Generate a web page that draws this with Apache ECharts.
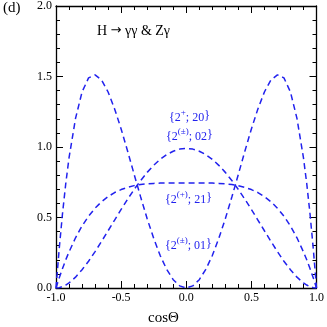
<!DOCTYPE html>
<html><head><meta charset="utf-8">
<script src="https://cdn.jsdelivr.net/npm/echarts@6/dist/echarts.min.js"></script>
<style>html,body{margin:0;padding:0;background:#fff}#c{width:327px;height:327px}</style>
</head><body><div id="c"></div>
<script>
var cosTheta = [-1,-0.975,-0.95,-0.925,-0.9,-0.85,-0.8,-0.75,-0.7,-0.65,-0.6,-0.55,-0.5,-0.45,-0.4,-0.35,-0.3,-0.25,-0.2,-0.15,-0.1,-0.05,0,
  0.05,0.1,0.15,0.2,0.25,0.3,0.35,0.4,0.45,0.5,0.55,0.6,0.65,0.7,0.75,0.8,0.85,0.9,0.925,0.95,0.975,1];
var curve01Half = [0,0.282,0.528,0.741,0.923,1.203,1.390,1.490,1.512,1.475,1.390,1.270,1.128,0.970,0.806,0.645,0.491,0.352,0.230,0.132,0.059,0.015,0];
var curve02Half = [0,0.002,0.010,0.021,0.036,0.077,0.130,0.190,0.258,0.331,0.406,0.482,0.557,0.630,0.699,0.762,0.820,0.870,0.913,0.946,0.970,0.985,0.99];
var curve21Half = [0,0.072,0.138,0.200,0.256,0.356,0.440,0.509,0.566,0.612,0.648,0.677,0.698,0.714,0.726,0.734,0.739,0.742,0.744,0.745,0.745,0.745,0.745];
function mirror(h){ return h.concat(h.slice(0,h.length-1).reverse()); }
var curve01 = mirror(curve01Half), curve02 = mirror(curve02Half), curve21 = mirror(curve21Half);
var xTicks = ['-1.0','-0.5','0.0','0.5','1.0'];
var yTicks = ['0.0','0.5','1.0','1.5','2.0'];

var serif = 'Liberation Serif';
var blue = '#2222ee';
function pairs(ys){ return cosTheta.map(function(x,i){return [x, ys[i]];}); }
function axisCommon(show){
  return {
    axisLine:{show:true, onZero:false, lineStyle:{color:'#000', width:1.3}},
    axisTick:{show:true, inside:true, length:7, lineStyle:{color:'#000', width:1}},
    minorTick:{show:true, splitNumber:5, length:4, lineStyle:{color:'#000', width:1}},
    splitLine:{show:false}, minorSplitLine:{show:false},
    axisLabel:{show:show, color:'#000', fontFamily:serif, fontSize:12}
  };
}
var xa = axisCommon(true), xb = axisCommon(false), ya = axisCommon(true), yb = axisCommon(false);
xa = Object.assign(xa,{type:'value', min:-1, max:1, interval:0.5, position:'bottom'});
xa.axisLabel.margin = 4; xa.axisLabel.formatter = function(v){ return xTicks[Math.round((v+1)/0.5)]; };
xb = Object.assign(xb,{type:'value', min:-1, max:1, interval:0.5, position:'top'});
ya = Object.assign(ya,{type:'value', min:0, max:2, interval:0.5, position:'left'});
ya.axisLabel.margin = 4; ya.axisLabel.formatter = function(v){ return yTicks[Math.round(v/0.5)]; };
yb = Object.assign(yb,{type:'value', min:0, max:2, interval:0.5, position:'right'});

function line(ys){
  return {type:'line', data:pairs(ys), showSymbol:false, smooth:false, xAxisIndex:0, yAxisIndex:0,
    lineStyle:{color:blue, width:1.5, type:[6,4]}, animation:false};
}
var rich = {
  n:{fontFamily:serif, fontSize:12, color:blue, lineHeight:16, verticalAlign:'bottom'},
  s:{fontFamily:serif, fontSize:9, color:blue, lineHeight:16, verticalAlign:'top', padding:[0,0,0,0]}
};
function lbl(x,y,text){
  return {type:'text', left:x, top:y, style:{text:text, rich:rich, fontFamily:serif, fontSize:12, fill:blue}};
}
var chart = echarts.init(document.getElementById('c'), null, {renderer:'canvas'});
chart.setOption({
  animation:false,
  grid:{left:56, right:8, top:6, bottom:39},
  xAxis:[xa, xb], yAxis:[ya, yb],
  series:[line(curve01), line(curve02), line(curve21)],
  graphic:[
    {type:'text', left:3, top:1, style:{text:'(d)', fontFamily:serif, fontSize:15, fill:'#000'}},
    {type:'text', left:97, top:24, style:{text:'{a|H }{b|\u2192}{a| \u03b3\u03b3 & Z\u03b3}',
      rich:{a:{fontFamily:serif, fontSize:14, color:'#000'}, b:{fontFamily:'DejaVu Sans', fontSize:13, color:'#000'}}}},
    {type:'text', left:148, top:311, style:{text:'cos\u0398', fontFamily:serif, fontSize:15, fill:'#000'}},
    lbl(169,108,'{n|{2}{s|+}{n|; 20}}'),
    lbl(166,127,'{n|{2}{s|(\u00b1)}{n|; 02}}'),
    lbl(165,190,'{n|{2}{s|(+)}{n|; 21}}'),
    lbl(165,236,'{n|{2}{s|(\u00b1)}{n|; 01}}')
  ]
});
</script></body></html>
